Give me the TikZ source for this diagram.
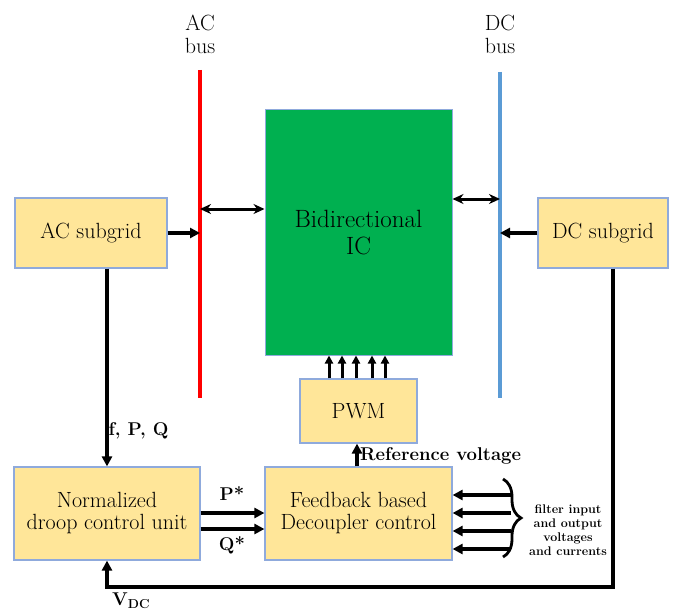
\documentclass[tikz,border=0pt]{standalone}
\usepackage{fontspec}
\usetikzlibrary{arrows.meta,decorations.pathreplacing}
\definecolor{boxfill}{HTML}{FFE699}
\definecolor{boxline}{HTML}{8FAADC}
\definecolor{icgreen}{HTML}{00B050}
\definecolor{busred}{HTML}{FF0000}
\definecolor{busblue}{HTML}{5B9BD5}
\tikzset{
  blk/.style={draw=boxline, line width=1.2pt, fill=boxfill, inner sep=0pt, align=center,
    font=\fontsize{22}{22}\selectfont},
  arr/.style={line width=3.2pt, -{Triangle[length=10pt,width=10pt]}},
  bidir/.style={line width=3pt, {Stealth[length=11pt,width=10pt]}-{Stealth[length=11pt,width=10pt]}},
  lbl/.style={font=\fontsize{18.5}{20}\selectfont\bfseries, inner sep=1pt},
  buslbl/.style={font=\fontsize{22}{23}\selectfont, align=center, inner sep=0pt},
}
\begin{document}
\begin{tikzpicture}[x=1pt,y=-1pt]
\useasboundingbox (0,0) rectangle (678,610);
% buses
\coordinate (acT) at (200,70);
\coordinate (acB) at (200,398);
\coordinate (dcT) at (500,72);
\coordinate (dcB) at (500,398);
\draw[busred, line width=3.6pt] (acT) -- (acB);
\draw[busblue, line width=3.4pt] (dcT) -- (dcB);
\node[buslbl] (aclbl) at (200,34) {AC\\bus};
\node[buslbl] (dclbl) at (500,34) {DC\\bus};
% blocks
\node[blk, minimum width=152pt, minimum height=70pt] (acg) at (91,233) {AC subgrid};
\node[blk, minimum width=130pt, minimum height=70pt] (dcg) at (603,233) {DC subgrid};
\node[draw=boxline, line width=1pt, fill=icgreen, inner sep=0pt, align=center,
  minimum width=187pt, minimum height=245pt, font=\fontsize{25}{27}\selectfont] (ic) at (358.5,232.5) {Bidirectional\\IC};
\node[blk, minimum width=117pt, minimum height=64pt] (pwm) at (358.5,411) {PWM};
\node[blk, minimum width=186pt, minimum height=93pt] (droop) at (107,513.5) {Normalized\\droop control unit};
\node[blk, minimum width=187pt, minimum height=93pt] (fb) at (358.5,513.5) {Feedback based\\Decoupler control};
% AC side
\draw[arr] (acg.east) -- (acg.east -| acT);
\coordinate (b1) at (200,209);
\draw[bidir] (b1) -- (b1 -| ic.west);
% DC side
\coordinate (b2) at (500,199);
\draw[bidir] (b2 -| ic.east) -- (b2);
\draw[arr] (dcg.west) -- (dcg.west -| dcT);
% AC subgrid to droop
\draw[arr] (droop.north |- acg.south) -- (droop.north) node[lbl, pos=0.82, anchor=west, xshift=-1pt] {f, P, Q};
% PWM to IC
\foreach \xx in {329,342,356,372,385}{
  \draw[line width=3pt, -{Triangle[length=8pt,width=8pt]}] (\xx,0 |- pwm.north) -- (\xx,0 |- ic.south);
}
% Reference voltage
\draw[arr] (357,0 |- fb.north) -- (357,0 |- pwm.south);
\node[lbl, anchor=west] (refv) at (359,456) {Reference voltage};
% P*, Q*
\coordinate (p1) at (200,513);
\coordinate (q1) at (200,529);
\draw[arr] (p1 -| droop.east) -- (p1 -| fb.west);
\draw[arr] (q1 -| droop.east) -- (q1 -| fb.west);
\node[lbl] (plbl) at (232,494) {P*};
\node[lbl] (qlbl) at (232,545) {Q*};
% filter inputs
\foreach \yy in {495,513,531,549}{
  \coordinate (f\yy) at (511,\yy);
  \draw[arr] (f\yy) -- (f\yy -| fb.east);
}
\coordinate (brT) at (503,479);
\coordinate (brB) at (503,557);
\draw[line width=2.8pt, decorate, decoration={brace, amplitude=18pt}] (brT) -- (brB);
\node[font=\fontsize{12.5}{14}\selectfont\bfseries, align=center, inner sep=0pt] (filt) at (568,530) {filter input\\and output\\voltages\\and currents};
% DC feedback
\coordinate (v1) at (613,587);
\draw[arr] (dcg.south -| v1) -- (v1) -- (v1 -| droop.south) -- (droop.south);
\node[lbl, anchor=north west] (vdc) at (111,592) {V\textsubscript{DC}};
\end{tikzpicture}
\end{document}
